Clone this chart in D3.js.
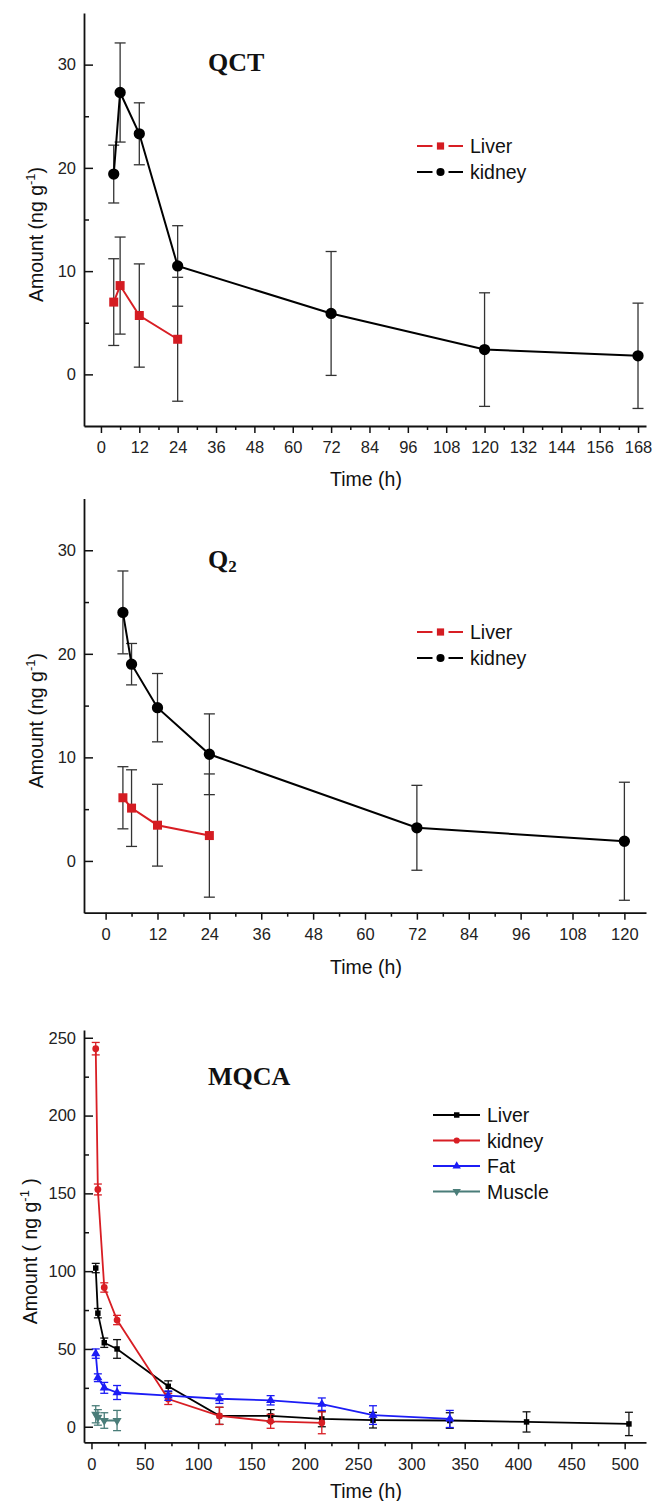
<!DOCTYPE html>
<html><head><meta charset="utf-8">
<script src="https://cdn.jsdelivr.net/npm/d3@7"></script>
<style>body{margin:0;background:#fff}svg{display:block}</style>
</head><body><svg id="c" width="655" height="1501"></svg>
<script>
// ---- Panel 1: QCT ----
const qctKidneyTime = [4, 6, 12, 24, 72, 120, 168];
const qctKidney = [19.4, 27.3, 23.3, 10.5, 5.9, 2.4, 1.8];
const qctKidneyErr = [2.8, 4.8, 3.0, 3.9, 6.0, 5.5, 5.1];
const qctLiverTime = [4, 6, 12, 24];
const qctLiver = [7.0, 8.6, 5.7, 3.4];
const qctLiverErr = [4.2, 4.7, 5.0, 6.0];
const qctXTicks = [0, 12, 24, 36, 48, 60, 72, 84, 96, 108, 120, 132, 144, 156, 168];
const qctYTicks = [0, 10, 20, 30];

// ---- Panel 2: Q2 ----
const q2KidneyTime = [4, 6, 12, 24, 72, 120];
const q2Kidney = [24.0, 19.0, 14.8, 10.3, 3.2, 1.9];
const q2KidneyErr = [4.0, 2.0, 3.3, 3.9, 4.1, 5.7];
const q2LiverTime = [4, 6, 12, 24];
const q2Liver = [6.1, 5.1, 3.45, 2.45];
const q2LiverErr = [3.0, 3.7, 3.95, 5.95];
const q2XTicks = [0, 12, 24, 36, 48, 60, 72, 84, 96, 108, 120];
const q2YTicks = [0, 10, 20, 30];

// ---- Panel 3: MQCA ----
const mqcaLiverTime = [4, 6, 12, 24, 72, 120, 168, 216, 264, 336, 408, 504];
const mqcaLiver = [102, 73, 54, 50, 26, 7, 7, 5, 4.2, 4, 3.1, 1.8];
const mqcaLiverErr = [3, 3, 3, 6, 3.5, 5.5, 4, 5, 5, 5, 6.5, 7.5];
const mqcaKidneyTime = [4, 6, 12, 24, 72, 120, 168, 216];
const mqcaKidney = [243, 152.5, 89.5, 68.6, 17.8, 7, 3.5, 2.5];
const mqcaKidneyErr = [4, 3.5, 3, 3, 3.5, 5.5, 4.5, 7];
const mqcaFatTime = [4, 6, 12, 24, 72, 120, 168, 216, 264, 336];
const mqcaFat = [47, 31.5, 25, 22, 20, 18, 17, 14.5, 7.5, 5];
const mqcaFatErr = [3, 2.5, 3.5, 4.5, 3, 3, 3, 4, 6, 5.5];
const mqcaMuscleTime = [4, 6, 12, 24];
const mqcaMuscle = [8, 6, 4, 4];
const mqcaMuscleErr = [5.5, 5, 5, 6.5];
const mqcaXTicks = [0, 50, 100, 150, 200, 250, 300, 350, 400, 450, 500];
const mqcaYTicks = [0, 50, 100, 150, 200, 250];

const RED = "#d81e24", BLACK = "#000", BLUE = "#1c1cf5", TEAL = "#4a7d79";
const FONT = "'Liberation Sans', Arial, sans-serif";
const SERIF = "'Liberation Serif', 'Times New Roman', serif";

const svg = d3.select("#c");
svg.append("rect").attr("width", 655).attr("height", 1501).attr("fill", "#fff");

function zip(t, v, e) { return t.map((d, i) => ({ t: d, v: v[i], e: e[i] })); }
function minorOf(major, step, max) {
  const out = [];
  for (let i = 0; i < major.length; i++) { const m = major[i] + step; if (m < max) out.push(m); }
  return out;
}

function panel(cfg) {
  const g = svg.append("g");
  const x = d3.scaleLinear().domain(cfg.xDomain).range([84, 646]);
  const y = d3.scaleLinear().domain(cfg.yDomain).range([cfg.bottom, cfg.top]);

  // x axis minor
  g.append("g").attr("transform", `translate(0,${cfg.bottom})`)
    .call(d3.axisBottom(x).tickValues(cfg.xMinor).tickSize(4).tickSizeOuter(0).tickFormat(""))
    .call(a => a.select(".domain").remove())
    .call(a => a.selectAll("line").attr("stroke", "#111").attr("stroke-width", 1.5));
  // x axis major
  g.append("g").attr("transform", `translate(0,${cfg.bottom})`)
    .call(d3.axisBottom(x).tickValues(cfg.xTicks).tickSize(7).tickSizeOuter(0).tickPadding(8.5))
    .call(a => a.select(".domain").attr("stroke", "#111").attr("stroke-width", 1.8))
    .call(a => a.selectAll("line").attr("stroke", "#111").attr("stroke-width", 1.5))
    .call(a => a.selectAll("text").attr("font-family", FONT).attr("font-size", 16.5).attr("fill", "#222"));
  // y axis minor (inward)
  g.append("g").attr("transform", `translate(84,0)`)
    .call(d3.axisLeft(y).tickValues(cfg.yMinor).tickSize(-5).tickSizeOuter(0).tickFormat(""))
    .call(a => a.select(".domain").remove())
    .call(a => a.selectAll("line").attr("stroke", "#111").attr("stroke-width", 1.5));
  // y axis major (inward)
  g.append("g").attr("transform", `translate(84,0)`)
    .call(d3.axisLeft(y).tickValues(cfg.yTicks).tickSize(-9).tickSizeOuter(0).tickPadding(8))
    .call(a => a.select(".domain").attr("stroke", "#111").attr("stroke-width", 1.8))
    .call(a => a.selectAll("line").attr("stroke", "#111").attr("stroke-width", 1.5))
    .call(a => a.selectAll("text").attr("font-family", FONT).attr("font-size", 16.5).attr("fill", "#222"));

  // axis titles
  g.append("text").attr("x", 366).attr("y", cfg.bottom + cfg.xTitleOff)
    .attr("text-anchor", "middle").attr("font-family", FONT).attr("font-size", 19.5).attr("fill", "#111")
    .text("Time (h)");
  const yl = g.append("text")
    .attr("transform", `translate(${cfg.yTitleX},${(cfg.top + cfg.bottom) / 2 + 15}) rotate(-90)`)
    .attr("text-anchor", "middle").attr("font-family", FONT).attr("font-size", 19.5).attr("fill", "#111");
  yl.append("tspan").text(cfg.yLabel[0]);
  yl.append("tspan").attr("font-size", 13).attr("dy", -8).text("-1");
  yl.append("tspan").attr("dy", 8).text(cfg.yLabel[1]);

  // title
  const tt = g.append("text").attr("x", 208).attr("y", cfg.titleY)
    .attr("font-family", SERIF).attr("font-weight", "bold").attr("font-size", 26).attr("fill", "#111");
  tt.append("tspan").text(cfg.title[0]);
  if (cfg.title[1]) tt.append("tspan").attr("font-size", 17).attr("dy", 4).text(cfg.title[1]);

  // series
  cfg.series.forEach(s => {
    const data = s.data;
    const sg = g.append("g");
    // error bars
    const eb = sg.selectAll("g.eb").data(data).enter().append("g");
    eb.append("line").attr("x1", d => x(d.t)).attr("x2", d => x(d.t))
      .attr("y1", d => y(d.v - d.e)).attr("y2", d => y(d.v + d.e))
      .attr("stroke", s.errColor).attr("stroke-width", 1.3);
    [-1, 1].forEach(k => {
      eb.append("line").attr("x1", d => x(d.t) - cfg.cap).attr("x2", d => x(d.t) + cfg.cap)
        .attr("y1", d => y(d.v + k * d.e)).attr("y2", d => y(d.v + k * d.e))
        .attr("stroke", s.errColor).attr("stroke-width", 1.3);
    });
    sg.append("path").datum(data)
      .attr("d", d3.line().x(d => x(d.t)).y(d => y(d.v)))
      .attr("fill", "none").attr("stroke", s.color).attr("stroke-width", cfg.lw);
    sg.selectAll("path.m").data(data).enter().append("path")
      .attr("transform", d => `translate(${x(d.t)},${y(d.v)})${s.down ? " rotate(180)" : ""}`)
      .attr("d", d3.symbol().type(s.symbol).size(s.size))
      .attr("fill", s.fill || s.color);
  });

  // legend
  cfg.series.forEach((s, i) => {
    const ly = cfg.legend.y + i * cfg.legend.dy;
    const L = cfg.legend;
    if (L.gap) {
      g.append("line").attr("x1", L.x1).attr("x2", L.xm - L.gap).attr("y1", ly).attr("y2", ly)
        .attr("stroke", s.color).attr("stroke-width", 2);
      g.append("line").attr("x1", L.xm + L.gap).attr("x2", L.x2).attr("y1", ly).attr("y2", ly)
        .attr("stroke", s.color).attr("stroke-width", 2);
    } else {
      g.append("line").attr("x1", L.x1).attr("x2", L.x2).attr("y1", ly).attr("y2", ly)
        .attr("stroke", s.color).attr("stroke-width", 2);
    }
    g.append("path").attr("transform", `translate(${L.xm},${ly})${s.down ? " rotate(180)" : ""}`)
      .attr("d", d3.symbol().type(s.symbol).size(L.size || s.size * 0.7))
      .attr("fill", s.fill || s.color);
    g.append("text").attr("x", L.tx).attr("y", ly).attr("dy", "0.36em")
      .attr("font-family", FONT).attr("font-size", 19.5).attr("fill", "#111").text(s.name);
  });
}

panel({
  top: 13, bottom: 426, xDomain: [-5.3, 170.5], yDomain: [-5, 35],
  xTicks: qctXTicks, xMinor: minorOf(qctXTicks, 6, 170), yTicks: qctYTicks, yMinor: minorOf(qctYTicks, 5, 35),
  xTitleOff: 60, yTitleX: 43, yLabel: ["Amount (ng g", ")"], title: ["QCT"], titleY: 71,
  cap: 5.5, lw: 2,
  legend: { y: 146, dy: 26, x1: 417, x2: 463, xm: 440.5, gap: 8, tx: 470, size: 52 },
  series: [
    { name: "Liver", data: zip(qctLiverTime, qctLiver, qctLiverErr), color: RED, fill: "#d41c22", errColor: "#333", symbol: d3.symbolSquare, size: 81 },
    { name: "kidney", data: zip(qctKidneyTime, qctKidney, qctKidneyErr), color: BLACK, errColor: "#333", symbol: d3.symbolCircle, size: 100 }
  ]
});

panel({
  top: 498.5, bottom: 912.7, xDomain: [-5, 125], yDomain: [-5, 35],
  xTicks: q2XTicks, xMinor: minorOf(q2XTicks, 6, 125), yTicks: q2YTicks, yMinor: minorOf(q2YTicks, 5, 35),
  xTitleOff: 61, yTitleX: 43, yLabel: ["Amount (ng g", ")"], title: ["Q", "2"], titleY: 568,
  cap: 5.5, lw: 2,
  legend: { y: 632, dy: 26, x1: 417, x2: 463, xm: 440.5, gap: 8, tx: 470, size: 52 },
  series: [
    { name: "Liver", data: zip(q2LiverTime, q2Liver, q2LiverErr), color: RED, fill: "#d41c22", errColor: "#333", symbol: d3.symbolSquare, size: 81 },
    { name: "kidney", data: zip(q2KidneyTime, q2Kidney, q2KidneyErr), color: BLACK, errColor: "#333", symbol: d3.symbolCircle, size: 100 }
  ]
});

panel({
  top: 1030, bottom: 1442.3, xDomain: [-7, 520], yDomain: [-10, 255],
  xTicks: mqcaXTicks, xMinor: minorOf(mqcaXTicks, 25, 520), yTicks: mqcaYTicks, yMinor: minorOf(mqcaYTicks, 25, 255),
  xTitleOff: 56, yTitleX: 37, yLabel: ["Amount ( ng g", " )"], title: ["MQCA"], titleY: 1084.5,
  cap: 4, lw: 1.8,
  legend: { y: 1115, dy: 25.5, x1: 433, x2: 480, xm: 456.7, gap: 0, tx: 487, size: 30 },
  series: [
    { name: "Liver", data: zip(mqcaLiverTime, mqcaLiver, mqcaLiverErr), color: BLACK, errColor: "#111", symbol: d3.symbolSquare, size: 30 },
    { name: "kidney", data: zip(mqcaKidneyTime, mqcaKidney, mqcaKidneyErr), color: RED, errColor: RED, symbol: d3.symbolCircle, size: 36 },
    { name: "Fat", data: zip(mqcaFatTime, mqcaFat, mqcaFatErr), color: BLUE, errColor: BLUE, symbol: d3.symbolTriangle, size: 36 },
    { name: "Muscle", data: zip(mqcaMuscleTime, mqcaMuscle, mqcaMuscleErr), color: TEAL, errColor: TEAL, symbol: d3.symbolTriangle, size: 36, down: true }
  ]
});
</script>
</body></html>
